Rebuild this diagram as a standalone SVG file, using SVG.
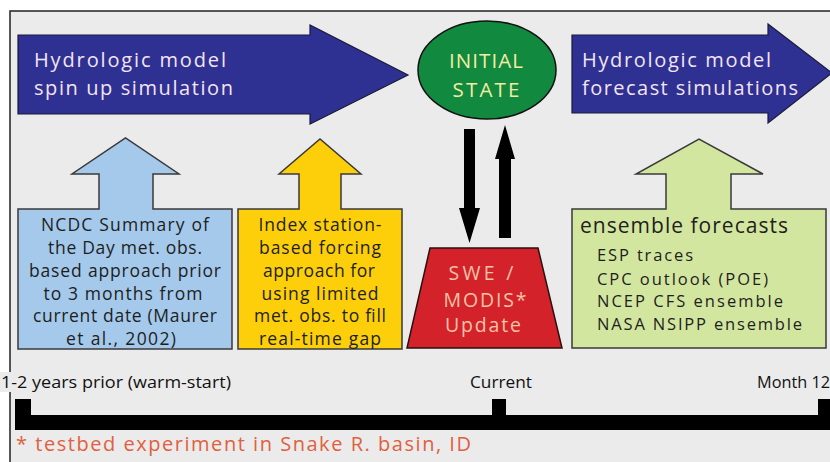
<svg xmlns="http://www.w3.org/2000/svg" width="830" height="462" viewBox="0 0 830 462">
  <style>
    text { font-family: "Open Sans", "Noto Sans", "DejaVu Sans", sans-serif; }
    .bigarrow { fill: #2e3192; stroke: #1a1a3a; stroke-width: 1.2; }
    .arrowtxt { fill: #f4e4f2; font-size: 20px; }
    .box { stroke: #3a3a3a; stroke-width: 1.5; }
    .boxtxt { fill: #1e1e1e; font-size: 17.5px; text-anchor: middle; }
    .ens { fill: #1e1e1e; font-size: 16.5px; }
    .tl { fill: #111; font-size: 16.5px; }
    .swe { fill: #f6c3a6; font-size: 19.5px; text-anchor: middle; }
    .conn { fill: #000; }
  </style>

  <!-- panel background and frame -->
  <rect x="0" y="0" width="830" height="462" fill="#ffffff"/>
  <rect x="10" y="11" width="830" height="462" fill="#ebebeb" stroke="#222" stroke-width="1.5"/>

  <!-- spin-up simulation arrow -->
  <g id="spinup">
    <polygon class="bigarrow" points="18,35 310,35 310,25 408,75 310,124 310,114 18,114"/>
    <text class="arrowtxt" x="34" y="67" textLength="192" lengthAdjust="spacing">Hydrologic model</text>
    <text class="arrowtxt" x="34" y="95" textLength="199" lengthAdjust="spacing">spin up simulation</text>
  </g>

  <!-- initial state -->
  <g id="initial-state">
    <ellipse cx="487" cy="70" rx="69" ry="49" fill="#118a3f" stroke="#111" stroke-width="1.5"/>
    <text x="486" y="68" fill="#f2eca4" font-size="20.5" text-anchor="middle" textLength="74" lengthAdjust="spacing">INITIAL</text>
    <text x="486" y="97" fill="#f2eca4" font-size="20.5" text-anchor="middle" textLength="67" lengthAdjust="spacing">STATE</text>
  </g>

  <!-- forecast simulations arrow -->
  <g id="forecast">
    <polygon class="bigarrow" points="572,35 768,35 768,24 832,73 768,123 768,113 572,113"/>
    <text class="arrowtxt" x="582" y="67" textLength="189" lengthAdjust="spacing">Hydrologic model</text>
    <text class="arrowtxt" x="582" y="95" textLength="216" lengthAdjust="spacing">forecast simulations</text>
  </g>

  <!-- NCDC forcing -->
  <g id="ncdc">
    <path class="box" fill="#a4c9eb" d="M18,209 H99 V174 H72 L125.5,138 L179,174 H153 V209 H232 V349 H18 Z"/>
    <text class="boxtxt" x="125" y="231" textLength="168" lengthAdjust="spacing">NCDC Summary of</text>
    <text class="boxtxt" x="125" y="254" textLength="154" lengthAdjust="spacing">the Day met. obs.</text>
    <text class="boxtxt" x="125" y="277" textLength="192" lengthAdjust="spacing">based approach prior</text>
    <text class="boxtxt" x="123" y="300" textLength="159" lengthAdjust="spacing">to 3 months from</text>
    <text class="boxtxt" x="125" y="322" textLength="184" lengthAdjust="spacing">current date (Maurer</text>
    <text class="boxtxt" x="121" y="345" textLength="110" lengthAdjust="spacing">et al., 2002)</text>
  </g>

  <!-- index station forcing -->
  <g id="index-station">
    <path class="box" fill="#fdcf0a" d="M238,209 H299 V174 H279 L320,139 L361,174 H341 V209 H402 V349 H238 Z"/>
    <text class="boxtxt" x="320" y="231" textLength="123" lengthAdjust="spacing">Index station-</text>
    <text class="boxtxt" x="320" y="254" textLength="122" lengthAdjust="spacing">based forcing</text>
    <text class="boxtxt" x="319" y="277" textLength="112" lengthAdjust="spacing">approach for</text>
    <text class="boxtxt" x="320" y="300" textLength="117" lengthAdjust="spacing">using limited</text>
    <text class="boxtxt" x="320" y="322" textLength="132" lengthAdjust="spacing">met. obs. to fill</text>
    <text class="boxtxt" x="320" y="345" textLength="122" lengthAdjust="spacing">real-time gap</text>
  </g>

  <!-- SWE / MODIS update -->
  <g id="swe-update">
    <polygon fill="#d3222a" stroke="#2a1010" stroke-width="1.5" points="430,248 538,248 562,348 407,348"/>
    <text class="swe" x="481" y="280" textLength="65" lengthAdjust="spacing">SWE /</text>
    <text class="swe" x="485" y="307" textLength="83" lengthAdjust="spacing">MODIS*</text>
    <text class="swe" x="483" y="332" textLength="76" lengthAdjust="spacing">Update</text>
  </g>

  <!-- ensemble forecasts -->
  <g id="ensemble">
    <path class="box" fill="#d3e6a0" d="M572,209 H666 V174 H636 L699,139 L763,174 H731 V209 H826 V348 H572 Z"/>
    <text x="580" y="233" fill="#1e1e1e" font-size="21" textLength="208" lengthAdjust="spacing">ensemble forecasts</text>
    <text class="ens" x="597" y="261" textLength="96" lengthAdjust="spacing">ESP traces</text>
    <text class="ens" x="597" y="285" textLength="171" lengthAdjust="spacing">CPC outlook (POE)</text>
    <text class="ens" x="597" y="307" textLength="186" lengthAdjust="spacing">NCEP CFS ensemble</text>
    <text class="ens" x="597" y="330" textLength="205" lengthAdjust="spacing">NASA NSIPP ensemble</text>
  </g>

  <!-- assimilation exchange between state and update -->
  <g id="connectors">
    <polygon class="conn" points="464,129 475,129 475,208 480,208 469.5,243 459,208 464,208"/>
    <polygon class="conn" points="499,238 511,238 511,159 515,159 505,125 495,159 499,159"/>
  </g>

  <!-- timeline -->
  <g id="timeline">
    <rect x="0" y="372" width="12" height="20" fill="#ebebeb"/>
    <text class="tl" x="1" y="388" textLength="230" lengthAdjust="spacingAndGlyphs">1-2 years prior (warm-start)</text>
    <text class="tl" x="470" y="388" textLength="62" lengthAdjust="spacingAndGlyphs">Current</text>
    <text class="tl" x="757" y="388" textLength="73" lengthAdjust="spacingAndGlyphs">Month 12</text>
    <rect x="15" y="399" width="16" height="17" fill="#000"/>
    <rect x="492" y="399" width="14" height="17" fill="#000"/>
    <rect x="818" y="399" width="14" height="17" fill="#000"/>
    <rect x="15" y="415" width="817" height="15" fill="#000"/>
  </g>

  <!-- footnote -->
  <text x="16" y="451" fill="#e0603e" font-size="20" textLength="455" lengthAdjust="spacing">* testbed experiment in Snake R. basin, ID</text>
</svg>
